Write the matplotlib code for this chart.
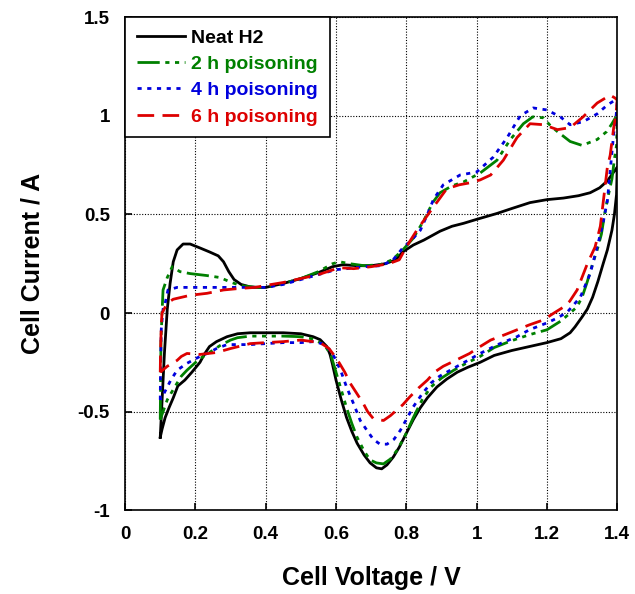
import matplotlib
matplotlib.use("Agg")
import matplotlib.pyplot as plt
from matplotlib.ticker import FuncFormatter

plt.rcParams['font.family'] = ['Liberation Sans', 'DejaVu Sans']
plt.rcParams['font.weight'] = 'bold'
plt.rcParams['axes.unicode_minus'] = False

# Cyclic voltammograms: anodic sweep 0.1 -> 1.4 V, then cathodic sweep back to 0.1 V
v_neat = [0.100, 0.105, 0.112, 0.120, 0.128, 0.137, 0.148, 0.165, 0.185, 0.213, 0.240, 0.265, 0.280, 0.295,
          0.310, 0.330, 0.355, 0.380, 0.400, 0.450, 0.500, 0.550, 0.590, 0.620, 0.660, 0.700, 0.740, 0.770,
          0.790, 0.820, 0.850, 0.896, 0.930, 0.963, 1.000, 1.058, 1.100, 1.152, 1.200, 1.247, 1.290, 1.323,
          1.350, 1.372, 1.390, 1.400,
          1.398, 1.392, 1.385, 1.372, 1.360, 1.345, 1.330, 1.315, 1.300, 1.280, 1.266, 1.240, 1.200, 1.150,
          1.100, 1.050, 1.010, 0.975, 0.945, 0.915, 0.887, 0.860, 0.840, 0.820, 0.800, 0.780, 0.763, 0.745,
          0.730, 0.715, 0.697, 0.680, 0.660, 0.645, 0.630, 0.615, 0.600, 0.590, 0.583, 0.574, 0.555, 0.535,
          0.500, 0.450, 0.400, 0.356, 0.320, 0.290, 0.260, 0.240, 0.225, 0.213, 0.190, 0.170, 0.150, 0.137,
          0.125, 0.114, 0.105, 0.100]
i_neat = [-0.63, -0.45, -0.20, 0.02, 0.15, 0.26, 0.32, 0.35, 0.35, 0.33, 0.31, 0.29, 0.26, 0.21,
          0.17, 0.145, 0.133, 0.13, 0.13, 0.15, 0.175, 0.205, 0.235, 0.245, 0.24, 0.24, 0.25, 0.27,
          0.31, 0.345, 0.37, 0.415, 0.44, 0.455, 0.475, 0.505, 0.53, 0.56, 0.575, 0.583, 0.595, 0.61,
          0.635, 0.67, 0.715, 0.74,
          0.60, 0.50, 0.42, 0.32, 0.25, 0.16, 0.08, 0.02, -0.02, -0.07, -0.10, -0.13, -0.15, -0.17,
          -0.19, -0.215, -0.25, -0.275, -0.30, -0.335, -0.375, -0.43, -0.48, -0.54, -0.61, -0.68, -0.73, -0.77,
          -0.79, -0.785, -0.76, -0.72, -0.66, -0.60, -0.53, -0.44, -0.34, -0.26, -0.21, -0.17, -0.135, -0.12,
          -0.105, -0.10, -0.10, -0.10, -0.105, -0.12, -0.145, -0.17, -0.21, -0.25, -0.30, -0.34, -0.37, -0.43,
          -0.48, -0.53, -0.59, -0.63]

v_2h = [0.100, 0.101, 0.102, 0.105, 0.108, 0.120, 0.134, 0.156, 0.185, 0.233, 0.270, 0.300, 0.327, 0.370,
        0.400, 0.450, 0.500, 0.550, 0.590, 0.610, 0.640, 0.680, 0.726, 0.760, 0.790, 0.820, 0.850, 0.875,
        0.896, 0.930, 0.963, 1.010, 1.058, 1.096, 1.133, 1.160, 1.190, 1.210, 1.230, 1.266, 1.300, 1.343,
        1.370, 1.385, 1.395, 1.400,
        1.398, 1.392, 1.385, 1.375, 1.365, 1.355, 1.343, 1.330, 1.315, 1.300, 1.285, 1.266, 1.240, 1.200,
        1.150, 1.100, 1.050, 1.010, 0.970, 0.935, 0.900, 0.870, 0.845, 0.820, 0.797, 0.774, 0.755, 0.735,
        0.715, 0.697, 0.680, 0.660, 0.645, 0.630, 0.615, 0.600, 0.585, 0.570, 0.555, 0.530, 0.500, 0.450,
        0.400, 0.356, 0.320, 0.300, 0.270, 0.240, 0.210, 0.176, 0.160, 0.148, 0.133, 0.120, 0.110, 0.100]
i_2h = [-0.54, -0.35, -0.15, 0.0, 0.117, 0.18, 0.235, 0.21, 0.20, 0.19, 0.18, 0.157, 0.14, 0.13,
        0.13, 0.15, 0.175, 0.21, 0.25, 0.26, 0.25, 0.24, 0.245, 0.27, 0.32, 0.38, 0.47, 0.56,
        0.61, 0.645, 0.665, 0.71, 0.775, 0.88, 0.96, 0.995, 0.99, 0.95, 0.92, 0.87, 0.85, 0.88,
        0.92, 0.96, 0.99, 0.97,
        0.85, 0.78, 0.68, 0.60, 0.51, 0.40, 0.32, 0.25, 0.16, 0.08, 0.03, 0.0, -0.04, -0.085,
        -0.11, -0.14, -0.175, -0.22, -0.255, -0.29, -0.33, -0.375, -0.44, -0.53, -0.62, -0.695, -0.74, -0.765,
        -0.76, -0.745, -0.70, -0.63, -0.56, -0.48, -0.39, -0.30, -0.21, -0.17, -0.15, -0.13, -0.12, -0.117,
        -0.117, -0.117, -0.125, -0.137, -0.165, -0.20, -0.235, -0.29, -0.32, -0.355, -0.40, -0.44, -0.49, -0.54]

v_4h = [0.100, 0.101, 0.103, 0.108, 0.114, 0.122, 0.148, 0.233, 0.300, 0.356, 0.400, 0.450, 0.500, 0.550,
        0.600, 0.630, 0.680, 0.726, 0.760, 0.790, 0.815, 0.840, 0.860, 0.877, 0.905, 0.953, 1.000, 1.047,
        1.087, 1.124, 1.161, 1.200, 1.238, 1.266, 1.303, 1.343, 1.372, 1.394, 1.400,
        1.396, 1.390, 1.380, 1.372, 1.360, 1.352, 1.343, 1.323, 1.295, 1.258, 1.230, 1.200, 1.150, 1.115,
        1.060, 1.010, 0.965, 0.925, 0.895, 0.870, 0.845, 0.820, 0.800, 0.783, 0.765, 0.745, 0.725, 0.706,
        0.690, 0.669, 0.650, 0.630, 0.615, 0.600, 0.585, 0.560, 0.535, 0.500, 0.450, 0.400, 0.356, 0.290,
        0.260, 0.240, 0.213, 0.176, 0.148, 0.130, 0.120, 0.110, 0.100]
i_4h = [-0.44, -0.25, -0.08, 0.02, 0.05, 0.117, 0.13, 0.13, 0.13, 0.13, 0.13, 0.145, 0.17, 0.195,
        0.22, 0.225, 0.235, 0.24, 0.265, 0.33, 0.37, 0.42, 0.50, 0.575, 0.65, 0.70, 0.715, 0.79,
        0.89, 1.0, 1.04, 1.03, 0.995, 0.955, 0.97, 1.01, 1.055, 1.08, 1.07,
        0.98, 0.91, 0.72, 0.57, 0.46, 0.40, 0.335, 0.20, 0.08, 0.005, -0.025, -0.05, -0.085, -0.12,
        -0.16, -0.205, -0.25, -0.29, -0.32, -0.355, -0.41, -0.475, -0.54, -0.595, -0.64, -0.665, -0.665, -0.64,
        -0.60, -0.545, -0.46, -0.375, -0.30, -0.24, -0.19, -0.155, -0.145, -0.15, -0.15, -0.155, -0.16, -0.16,
        -0.18, -0.20, -0.22, -0.255, -0.29, -0.34, -0.375, -0.41, -0.44]

v_6h = [0.100, 0.101, 0.103, 0.105, 0.120, 0.137, 0.185, 0.233, 0.280, 0.327, 0.370, 0.400, 0.450, 0.500,
        0.550, 0.610, 0.650, 0.700, 0.750, 0.780, 0.800, 0.830, 0.870, 0.915, 0.950, 0.980, 1.010, 1.040,
        1.076, 1.115, 1.152, 1.190, 1.230, 1.266, 1.303, 1.343, 1.380, 1.394, 1.400,
        1.396, 1.390, 1.380, 1.372, 1.360, 1.352, 1.337, 1.315, 1.286, 1.265, 1.247, 1.220, 1.190, 1.150,
        1.115, 1.080, 1.040, 1.010, 0.980, 0.940, 0.905, 0.880, 0.860, 0.835, 0.810, 0.790, 0.774, 0.755,
        0.735, 0.706, 0.690, 0.678, 0.660, 0.640, 0.625, 0.610, 0.595, 0.580, 0.555, 0.500, 0.450, 0.400,
        0.356, 0.300, 0.260, 0.213, 0.176, 0.160, 0.148, 0.120, 0.110, 0.100]
i_6h = [-0.30, -0.18, -0.06, 0.0, 0.05, 0.07, 0.09, 0.10, 0.117, 0.125, 0.13, 0.14, 0.155, 0.175,
        0.195, 0.23, 0.225, 0.235, 0.25, 0.27, 0.335, 0.42, 0.52, 0.63, 0.65, 0.66, 0.675, 0.70,
        0.775, 0.89, 0.96, 0.955, 0.93, 0.94, 0.995, 1.065, 1.105, 1.09, 1.08,
        1.0, 0.94, 0.80, 0.74, 0.56, 0.44, 0.335, 0.25, 0.117, 0.06, 0.03, 0.0, -0.035, -0.06,
        -0.085, -0.11, -0.137, -0.17, -0.205, -0.24, -0.27, -0.30, -0.34, -0.38, -0.425, -0.465, -0.49, -0.52,
        -0.545, -0.535, -0.50, -0.46, -0.41, -0.355, -0.30, -0.255, -0.215, -0.18, -0.15, -0.137, -0.145, -0.15,
        -0.155, -0.18, -0.20, -0.21, -0.205, -0.22, -0.24, -0.27, -0.285, -0.30]

labels = ["Neat H2", "2 h poisoning", "4 h poisoning", "6 h poisoning"]
colors = ["black", "#008000", "#0000dd", "#dd0000"]
styles = ["-", (0, (8, 2, 1.5, 2, 1.5, 2, 1.5, 2)), (0, (1.5, 2)), (0, (6, 3))]

x_ticks = [0, 0.2, 0.4, 0.6, 0.8, 1.0, 1.2, 1.4]
y_ticks = [-1, -0.5, 0, 0.5, 1.0, 1.5]

fig = plt.figure(figsize=(6.35, 5.94), dpi=100)
ax = fig.add_axes([0.197, 0.141, 0.775, 0.830])

series = [(v_neat, i_neat), (v_2h, i_2h), (v_4h, i_4h), (v_6h, i_6h)]
for (v, i), lab, col, ls in zip(series, labels, colors, styles):
    ax.plot(v, i, color=col, linestyle=ls, linewidth=2.0, label=lab)

ax.set_xlim(0, 1.4)
ax.set_ylim(-1, 1.5)
ax.set_xticks(x_ticks)
ax.set_yticks(y_ticks)
fmt = FuncFormatter(lambda val, pos: "%g" % val)
ax.xaxis.set_major_formatter(fmt)
ax.yaxis.set_major_formatter(fmt)
ax.grid(True, color="black", linestyle=(0, (1, 1.5)), linewidth=0.8)
ax.set_axisbelow(True)
ax.tick_params(direction="in", length=5, width=1.2, labelsize=13.5, pad=11)
for lbl in ax.get_xticklabels() + ax.get_yticklabels():
    lbl.set_fontweight("bold")
for sp in ax.spines.values():
    sp.set_linewidth(1.2)

ax.set_xlabel("Cell Voltage / V", fontsize=18, fontweight="bold", labelpad=17)
ax.set_ylabel("Cell Current / A", fontsize=18, fontweight="bold", labelpad=24)

leg = ax.legend(loc="upper left", borderaxespad=0, fancybox=False, framealpha=1,
                edgecolor="black", fontsize=14, handlelength=2.5, handletextpad=0.3,
                labelspacing=0.45, borderpad=0.6)
leg.get_frame().set_linewidth(1.2)
for txt, col in zip(leg.get_texts(), colors):
    txt.set_color(col)
    txt.set_fontweight("bold")

fig.savefig("out.png", dpi=100)
